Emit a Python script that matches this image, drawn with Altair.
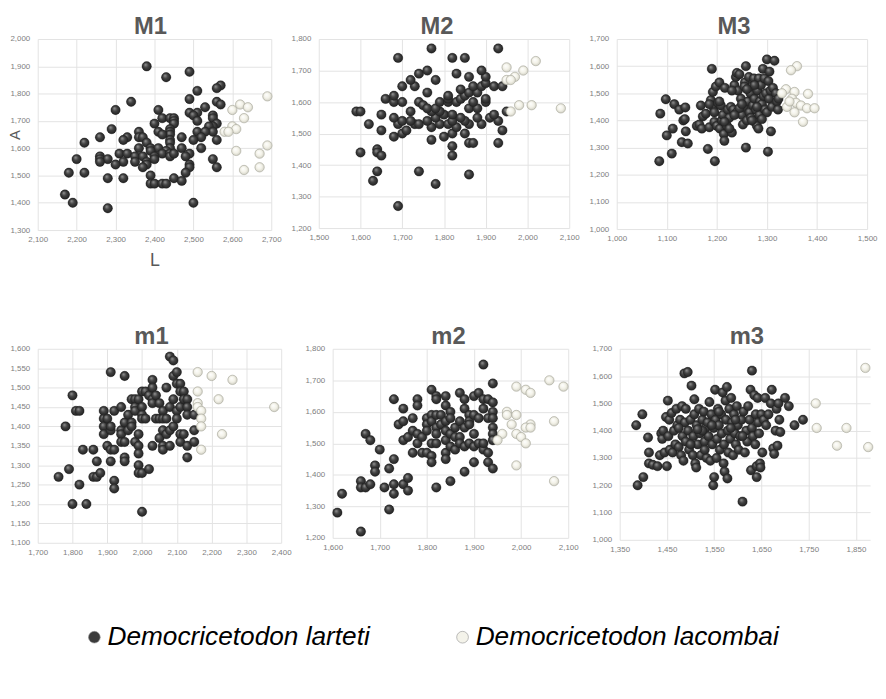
import altair as alt
import pandas as pd

SPECIES = ["Democricetodon larteti", "Democricetodon lacombai"]
SPECIES_COLORS = ["#3b3b3b", "#f4f3ea"]

# ---------------- data (L, A) ----------------
M1_larteti = [(2380,1900),(2490,1880),(2430,1860),(2570,1830),(2560,1820),(2510,1810),(2490,1780),(2340,1770),(2560,1770),(2570,1760),(2530,1750),(2300,1740),(2410,1740),(2490,1730),(2510,1730),(2500,1720),(2550,1720),(2550,1710),(2420,1710),(2440,1710),(2450,1710),(2450,1700),(2510,1700),(2400,1690),(2450,1690),(2560,1690),(2550,1680),(2540,1680),(2290,1670),(2440,1670),(2440,1660),(2410,1660),(2510,1660),(2550,1660),(2530,1660),(2360,1660),(2440,1650),(2420,1650),(2260,1640),(2330,1640),(2360,1640),(2370,1640),(2470,1640),(2520,1640),(2320,1630),(2440,1630),(2500,1630),(2560,1630),(2220,1620),(2380,1620),(2440,1620),(2390,1600),(2410,1600),(2360,1600),(2440,1600),(2470,1600),(2520,1600),(2430,1590),(2390,1590),(2310,1580),(2330,1580),(2420,1580),(2440,1580),(2490,1580),(2260,1570),(2350,1570),(2370,1570),(2400,1570),(2440,1570),(2480,1570),(2200,1560),(2260,1560),(2280,1560),(2260,1550),(2320,1550),(2350,1550),(2380,1550),(2400,1560),(2450,1580),(2300,1540),(2380,1540),(2490,1540),(2370,1530),(2490,1530),(2550,1560),(2560,1530),(2180,1510),(2220,1510),(2480,1510),(2390,1500),(2280,1490),(2320,1490),(2450,1490),(2470,1480),(2390,1470),(2400,1470),(2420,1470),(2430,1470),(2170,1430),(2190,1400),(2500,1400),(2280,1380)]
M1_lacombai = [(2690,1790),(2620,1760),(2600,1740),(2640,1750),(2630,1710),(2600,1680),(2610,1670),(2580,1660),(2590,1660),(2690,1610),(2610,1590),(2670,1580),(2670,1530),(2630,1520)]

M2_larteti = [(1690,1270),(1780,1340),(1630,1350),(1860,1370),(1640,1380),(1740,1380),(1600,1440),(1640,1450),(1640,1440),(1650,1430),(1820,1430),(1820,1460),(1770,1480),(1860,1470),(1870,1470),(1930,1470),(1680,1490),(1700,1500),(1800,1490),(1820,1500),(1850,1500),(1650,1510),(1710,1510),(1940,1510),(1620,1530),(1690,1530),(1730,1530),(1740,1530),(1770,1520),(1790,1530),(1810,1530),(1830,1520),(1860,1530),(1890,1530),(1700,1540),(1720,1540),(1760,1540),(1780,1550),(1820,1540),(1850,1540),(1910,1550),(1930,1540),(1680,1550),(1650,1560),(1800,1560),(1840,1550),(1880,1550),(1590,1570),(1600,1570),(1720,1570),(1770,1570),(1790,1570),(1820,1560),(1920,1560),(1950,1570),(1740,1600),(1750,1590),(1760,1580),(1780,1580),(1860,1580),(1880,1580),(1790,1600),(1810,1600),(1830,1600),(1870,1600),(1900,1600),(1660,1610),(1680,1600),(1700,1600),(1810,1610),(1840,1610),(1900,1610),(1680,1620),(1810,1620),(1850,1620),(1860,1630),(1880,1630),(1760,1630),(1840,1640),(1870,1650),(1890,1650),(1900,1660),(1920,1650),(1940,1650),(1700,1650),(1730,1650),(1720,1670),(1780,1670),(1740,1690),(1830,1690),(1860,1680),(1900,1680),(1760,1700),(1890,1700),(1690,1740),(1820,1740),(1850,1740),(1770,1770),(1930,1770)]
M2_lacombai = [(2020,1730),(1950,1710),(1990,1700),(1970,1680),(1950,1670),(1960,1670),(2010,1590),(1980,1590),(2080,1580),(1960,1570)]

M3_larteti = [(1085,1250),(1087,1425),(1098,1478),(1100,1345),(1110,1278),(1112,1370),(1115,1460),(1125,1440),(1130,1320),(1133,1400),(1136,1405),(1137,1448),(1138,1360),(1142,1315),(1160,1380),(1165,1385),(1168,1455),(1170,1370),(1172,1415),(1178,1425),(1182,1295),(1185,1375),(1188,1475),(1190,1590),(1192,1505),(1193,1450),(1195,1395),(1196,1250),(1198,1525),(1200,1380),(1202,1465),(1205,1540),(1206,1370),(1208,1455),(1210,1400),(1212,1420),(1214,1350),(1215,1325),(1216,1520),(1218,1390),(1220,1380),(1222,1440),(1225,1410),(1228,1450),(1230,1355),(1233,1440),(1235,1530),(1238,1560),(1240,1575),(1240,1430),(1242,1510),(1245,1570),(1248,1480),(1250,1420),(1252,1385),(1254,1450),(1256,1540),(1258,1600),(1258,1300),(1260,1400),(1262,1470),(1264,1560),(1265,1430),(1267,1500),(1268,1410),(1270,1525),(1272,1455),(1274,1555),(1275,1480),(1276,1395),(1278,1440),(1280,1380),(1281,1510),(1283,1370),(1284,1555),(1285,1420),(1286,1470),(1288,1530),(1290,1460),(1292,1590),(1293,1490),(1295,1555),(1296,1440),(1298,1500),(1300,1625),(1300,1430),(1302,1285),(1303,1545),(1304,1480),(1305,1580),(1307,1510),(1308,1360),(1310,1450),(1312,1520),(1315,1620),(1318,1500),(1320,1470),(1322,1440),(1323,1480),(1215,1395),(1225,1370),(1245,1445),(1255,1525),(1275,1530),(1270,1400),(1290,1405),(1260,1515),(1280,1450),(1250,1460),(1235,1420),(1205,1470),(1195,1430),(1185,1460),(1230,1510)]
M3_lacombai = [(1360,1600),(1348,1585),(1338,1515),(1355,1505),(1382,1498),(1350,1480),(1358,1465),(1340,1450),(1368,1455),(1380,1445),(1395,1445),(1355,1430),(1372,1395),(1345,1470),(1330,1500)]

m1_larteti = [(1760,1270),(1780,1400),(1790,1290),(1800,1480),(1800,1200),(1810,1440),(1820,1440),(1820,1250),(1830,1340),(1840,1200),(1860,1340),(1860,1270),(1870,1270),(1870,1310),(1880,1280),(1890,1440),(1890,1420),(1890,1400),(1890,1380),(1900,1420),(1900,1350),(1910,1540),(1910,1390),(1910,1400),(1910,1340),(1910,1310),(1920,1440),(1920,1340),(1920,1260),(1920,1240),(1940,1450),(1940,1390),(1940,1380),(1940,1360),(1950,1530),(1950,1410),(1950,1360),(1950,1320),(1950,1310),(1960,1430),(1960,1390),(1970,1470),(1970,1410),(1970,1400),(1980,1470),(1980,1450),(1980,1440),(1980,1360),(1990,1470),(1990,1380),(1990,1350),(1990,1330),(1990,1300),(1990,1280),(2000,1490),(2000,1450),(2000,1430),(2000,1420),(2000,1280),(2000,1180),(2010,1420),(2010,1490),(2020,1480),(2020,1290),(2030,1520),(2030,1500),(2030,1470),(2030,1460),(2030,1350),(2040,1480),(2040,1420),(2050,1460),(2050,1420),(2050,1370),(2060,1440),(2060,1420),(2060,1390),(2060,1350),(2060,1340),(2070,1500),(2070,1420),(2070,1380),(2080,1580),(2080,1450),(2080,1390),(2080,1350),(2090,1570),(2090,1530),(2090,1470),(2090,1400),(2100,1540),(2100,1510),(2100,1440),(2100,1420),(2110,1510),(2110,1490),(2110,1450),(2110,1380),(2110,1360),(2120,1490),(2120,1470),(2120,1380),(2130,1470),(2130,1450),(2130,1430),(2130,1350),(2130,1320),(2150,1430),(2150,1390),(2150,1360)]
m1_lacombai = [(2160,1540),(2200,1530),(2260,1520),(2160,1490),(2220,1470),(2160,1460),(2160,1450),(2170,1440),(2380,1450),(2170,1420),(2170,1400),(2230,1380),(2170,1340)]

m2_larteti = [(1610,1280),(1620,1340),(1660,1220),(1660,1380),(1660,1360),(1670,1360),(1670,1530),(1680,1510),(1680,1370),(1690,1430),(1690,1410),(1700,1480),(1710,1360),(1720,1290),(1720,1420),(1730,1640),(1730,1450),(1730,1370),(1730,1340),(1740,1560),(1750,1610),(1750,1570),(1750,1510),(1750,1370),(1760,1390),(1760,1350),(1760,1520),(1770,1580),(1770,1540),(1770,1470),(1780,1640),(1780,1620),(1780,1530),(1780,1500),(1790,1520),(1790,1470),(1800,1580),(1800,1560),(1800,1540),(1800,1470),(1810,1670),(1810,1590),(1810,1570),(1810,1500),(1810,1460),(1810,1440),(1820,1650),(1820,1640),(1820,1590),(1820,1550),(1820,1530),(1820,1500),(1820,1360),(1830,1590),(1830,1560),(1840,1650),(1840,1620),(1840,1570),(1840,1540),(1840,1510),(1840,1470),(1840,1450),(1850,1600),(1850,1580),(1850,1530),(1850,1490),(1850,1380),(1860,1550),(1860,1520),(1860,1480),(1870,1660),(1870,1570),(1870,1520),(1870,1500),(1880,1640),(1880,1610),(1880,1550),(1880,1490),(1880,1410),(1890,1590),(1890,1570),(1890,1560),(1890,1500),(1900,1650),(1900,1590),(1900,1530),(1900,1490),(1900,1440),(1910,1660),(1910,1580),(1910,1500),(1920,1750),(1920,1640),(1920,1610),(1920,1480),(1920,1500),(1930,1640),(1930,1580),(1930,1470),(1930,1440),(1940,1690),(1940,1630),(1940,1600),(1940,1580),(1940,1550),(1940,1530),(1940,1510),(1940,1420)]
m2_lacombai = [(2060,1700),(2090,1680),(1990,1680),(2010,1670),(2020,1660),(1970,1600),(1970,1590),(1990,1590),(1980,1560),(2020,1560),(2010,1550),(2020,1550),(1960,1530),(1990,1530),(2000,1520),(1950,1510),(2010,1500),(2070,1570),(1990,1430),(2070,1380)]

m3_larteti = [(1385,1420),(1388,1200),(1398,1460),(1400,1230),(1410,1375),(1412,1320),(1412,1280),(1420,1275),(1430,1270),(1435,1310),(1438,1390),(1440,1370),(1442,1400),(1445,1320),(1448,1450),(1450,1270),(1452,1510),(1453,1380),(1455,1440),(1456,1330),(1460,1465),(1462,1320),(1465,1400),(1468,1350),(1470,1480),(1472,1420),(1475,1340),(1478,1440),(1480,1310),(1482,1490),(1483,1380),(1485,1290),(1487,1610),(1488,1430),(1490,1480),(1490,1360),(1494,1615),(1495,1400),(1497,1330),(1500,1440),(1502,1565),(1505,1310),(1506,1380),(1508,1515),(1508,1460),(1510,1280),(1512,1265),(1513,1420),(1515,1350),(1518,1480),(1520,1390),(1522,1310),(1525,1440),(1528,1470),(1530,1360),(1532,1410),(1534,1300),(1536,1430),(1538,1380),(1540,1505),(1542,1290),(1544,1460),(1546,1350),(1548,1200),(1549,1410),(1550,1230),(1552,1550),(1553,1440),(1555,1300),(1556,1370),(1558,1480),(1560,1420),(1562,1330),(1565,1460),(1566,1390),(1568,1540),(1570,1280),(1571,1350),(1572,1250),(1574,1510),(1575,1440),(1577,1560),(1578,1225),(1579,1400),(1580,1320),(1582,1480),(1584,1370),(1586,1520),(1588,1430),(1590,1310),(1592,1460),(1594,1390),(1596,1350),(1598,1490),(1600,1420),(1602,1330),(1605,1380),(1608,1440),(1610,1140),(1612,1470),(1615,1320),(1618,1400),(1620,1360),(1622,1490),(1625,1440),(1627,1550),(1628,1255),(1630,1620),(1630,1410),(1632,1380),(1635,1530),(1637,1350),(1638,1460),(1640,1270),(1640,1230),(1642,1520),(1643,1430),(1645,1390),(1647,1280),(1648,1265),(1650,1460),(1652,1320),(1655,1440),(1658,1520),(1660,1420),(1665,1460),(1670,1500),(1672,1550),(1675,1335),(1677,1315),(1680,1400),(1682,1480),(1684,1345),(1686,1500),(1688,1440),(1690,1395),(1700,1520),(1708,1490),(1720,1420),(1738,1440),(1525,1400),(1560,1470),(1595,1440),(1545,1420),(1515,1405),(1585,1410),(1610,1380),(1475,1410),(1500,1350),(1530,1330)]
m3_lacombai = [(1870,1630),(1765,1500),(1767,1410),(1830,1410),(1810,1345),(1876,1340)]

# tick labels / axis ranges
M1_xticks = [2100, 2200, 2300, 2400, 2500, 2600, 2700]
M1_yticks = [1300, 1400, 1500, 1600, 1700, 1800, 1900, 2000]
M2_xticks = [1500, 1600, 1700, 1800, 1900, 2000, 2100]
M2_yticks = [1200, 1300, 1400, 1500, 1600, 1700, 1800]
M3_xticks = [1000, 1100, 1200, 1300, 1400, 1500]
M3_yticks = [1000, 1100, 1200, 1300, 1400, 1500, 1600, 1700]
m1_xticks = [1700, 1800, 1900, 2000, 2100, 2200, 2300, 2400]
m1_yticks = [1100, 1150, 1200, 1250, 1300, 1350, 1400, 1450, 1500, 1550, 1600]
m2_xticks = [1600, 1700, 1800, 1900, 2000, 2100]
m2_yticks = [1200, 1300, 1400, 1500, 1600, 1700, 1800]
m3_xticks = [1350, 1450, 1550, 1650, 1750, 1850]
m3_yticks = [1000, 1100, 1200, 1300, 1400, 1500, 1600, 1700]
m3_xmax = 1880

DARK_FILL = {
    "gradient": "radial", "x1": 0.36, "y1": 0.3, "r1": 0.0,
    "x2": 0.5, "y2": 0.5, "r2": 0.56,
    "stops": [{"offset": 0, "color": "#9a9a9a"},
              {"offset": 0.45, "color": "#434343"},
              {"offset": 1, "color": "#1c1c1c"}],
}
LIGHT_FILL = {
    "gradient": "radial", "x1": 0.38, "y1": 0.32, "r1": 0.0,
    "x2": 0.5, "y2": 0.5, "r2": 0.56,
    "stops": [{"offset": 0, "color": "#ffffff"},
              {"offset": 0.55, "color": "#f3f2e8"},
              {"offset": 1, "color": "#c9c8bc"}],
}

LEGEND = alt.Legend(
    title=None, orient="none", direction="horizontal",
    legendX=44, legendY=591,
    labelFont="Liberation Sans", labelFontSize=26.5, labelFontStyle="italic",
    labelColor="#000000", labelLimit=0, labelOffset=0,
    symbolType="circle", symbolSize=140, symbolStrokeColor="#8f8f8f",
    symbolStrokeWidth=0.6, columnPadding=80, padding=0,
)

def panel(name, dx, lar, lac, xt, yt, xmax, w, h, with_titles=False):
    rows = [{"L": l, "A": a, "species": SPECIES[0]} for l, a in lar]
    rows += [{"L": l, "A": a, "species": SPECIES[1]} for l, a in lac]
    df = pd.DataFrame(rows)
    xaxis = dict(values=xt, format=",d", labelPadding=6, labelFlush=False)
    yaxis = dict(values=yt, format=",d", labelPadding=8, labelFlush=False)
    if with_titles:
        xaxis.update(title="L", titleFontSize=18, titleFontWeight="normal",
                     titleColor="#595959", titleY=31, titleBaseline="middle")
        yaxis.update(title="A", titleFontSize=15, titleFontWeight="normal",
                     titleColor="#595959", titleX=-23, titleY=h / 2,
                     titleBaseline="middle", titleAlign="center")
    else:
        xaxis.update(title=None)
        yaxis.update(title=None)
    x = alt.X("L:Q", scale=alt.Scale(domain=[xt[0], xmax], nice=False, zero=False),
              axis=alt.Axis(**xaxis))
    y = alt.Y("A:Q", scale=alt.Scale(domain=[yt[0], yt[-1]], nice=False, zero=False),
              axis=alt.Axis(**yaxis))
    base = alt.Chart(df)
    legend_layer = base.mark_circle(size=80, opacity=1).encode(
        x=x, y=y,
        color=alt.Color("species:N",
                        scale=alt.Scale(domain=SPECIES, range=SPECIES_COLORS),
                        legend=LEGEND),
    )
    dark = base.transform_filter(alt.datum.species == SPECIES[0]).mark_circle(
        size=90, opacity=1, fill=DARK_FILL, stroke="#202020", strokeWidth=0.4
    ).encode(x=x, y=y)
    light = base.transform_filter(alt.datum.species == SPECIES[1]).mark_circle(
        size=90, opacity=1, fill=LIGHT_FILL, stroke="#a8a79c", strokeWidth=0.6
    ).encode(x=x, y=y)
    return alt.layer(legend_layer, dark, light).properties(
        width=w, height=h, title=alt.TitleParams(text=name, dx=dx))

row1 = alt.hconcat(
    panel("M1", -4, M1_larteti, M1_lacombai, M1_xticks, M1_yticks, M1_xticks[-1], 236, 193, True),
    panel("M2", -7, M2_larteti, M2_lacombai, M2_xticks, M2_yticks, M2_xticks[-1], 253, 191),
    panel("M3", -8, M3_larteti, M3_lacombai, M3_xticks, M3_yticks, M3_xticks[-1], 253, 192),
    spacing=8,
)
row2 = alt.hconcat(
    panel("m1", -8, m1_larteti, m1_lacombai, m1_xticks, m1_yticks, m1_xticks[-1], 246, 196),
    panel("m2", -2, m2_larteti, m2_lacombai, m2_xticks, m2_yticks, m2_xticks[-1], 238, 191),
    panel("m3", 2, m3_larteti, m3_lacombai, m3_xticks, m3_yticks, m3_xmax, 253, 193),
    spacing=12,
)

chart = alt.vconcat(row1, row2, spacing=56).properties(
    padding={"top": 4, "left": 0, "right": 0, "bottom": 0}, background="#ffffff"
).configure(font="Liberation Sans").configure_view(strokeWidth=0).configure_axis(
    labelFontSize=8, labelColor="#808080", labelFont="Liberation Sans",
    gridColor="#e3e3e3", gridWidth=1, domain=False, ticks=False,
).configure_title(
    fontSize=24, fontWeight="bold", color="#595959", anchor="middle",
    offset=-4, frame="group", font="Liberation Sans",
)

chart.save("out.html", embed_options={"renderer": "svg", "actions": False})
